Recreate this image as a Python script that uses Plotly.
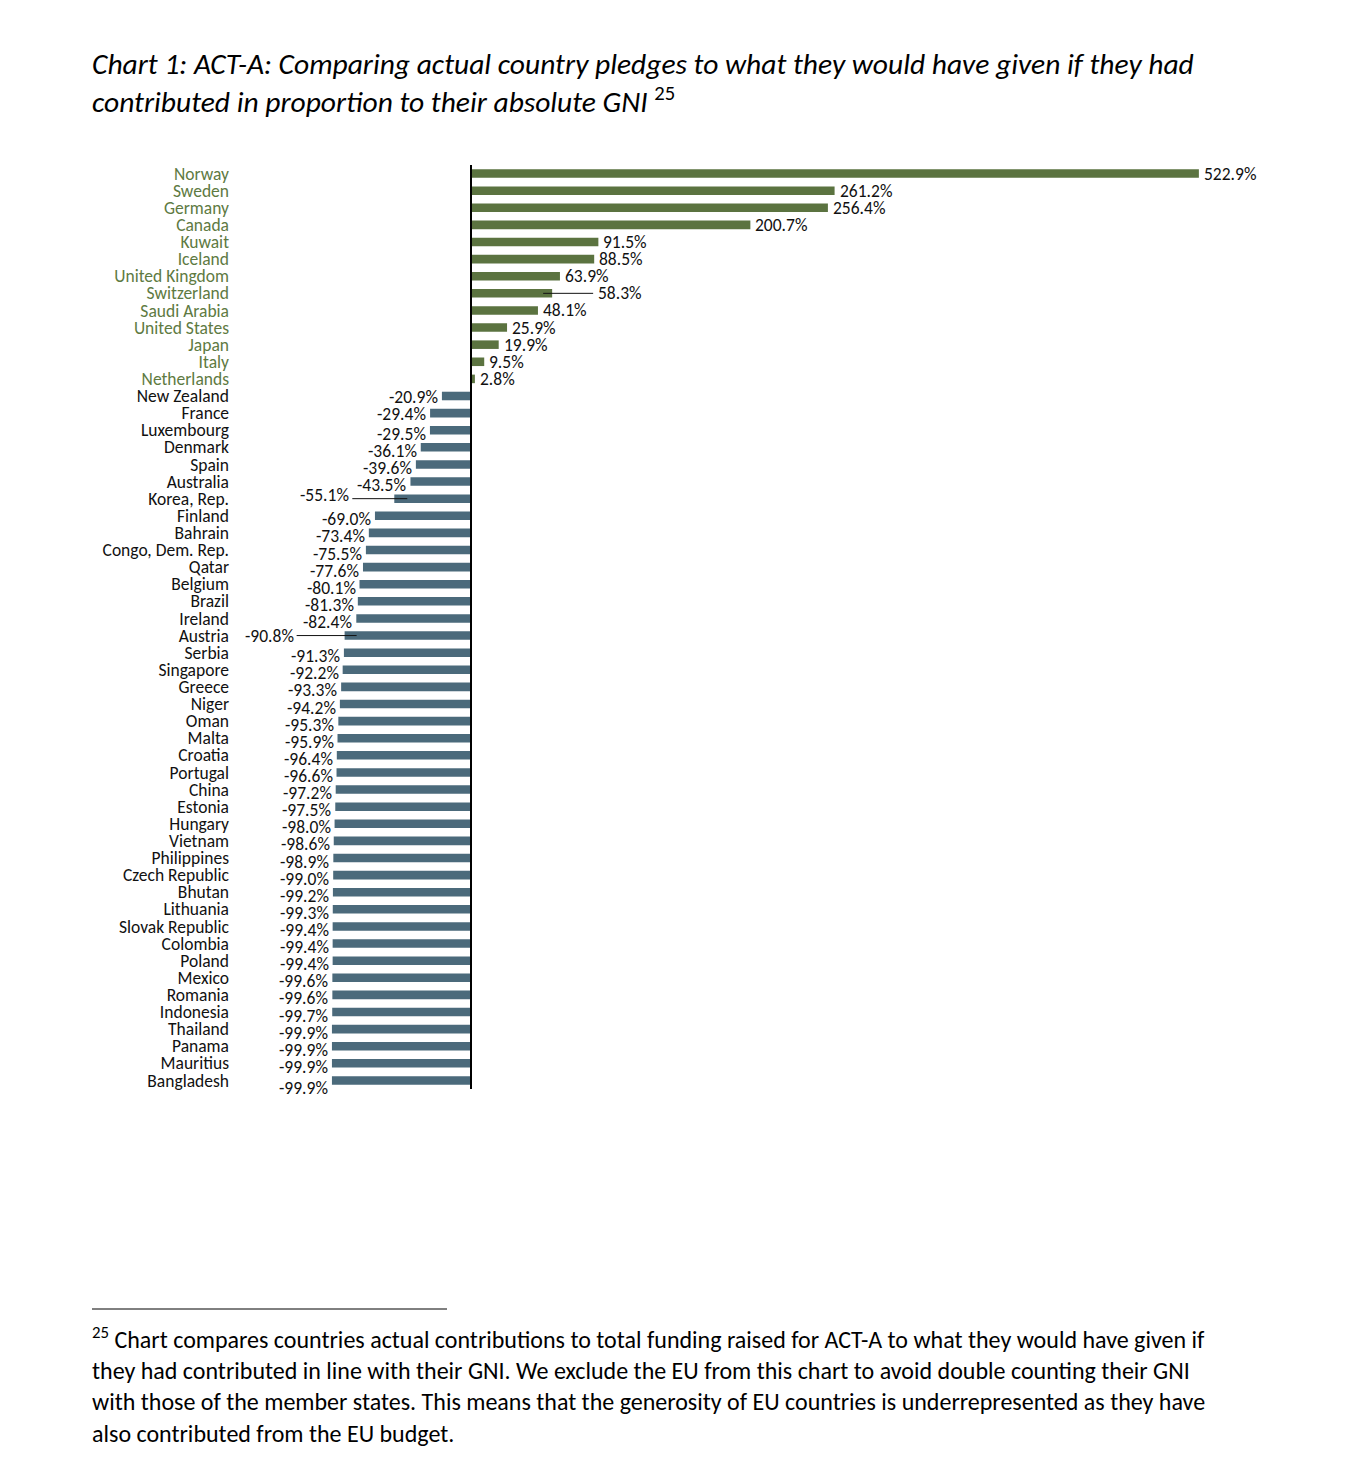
import plotly.graph_objects as go

countries = ["Norway", "Sweden", "Germany", "Canada", "Kuwait", "Iceland", "United Kingdom",
             "Switzerland", "Saudi Arabia", "United States", "Japan", "Italy", "Netherlands",
             "New Zealand", "France", "Luxembourg", "Denmark", "Spain", "Australia", "Korea, Rep.",
             "Finland", "Bahrain", "Congo, Dem. Rep.", "Qatar", "Belgium", "Brazil", "Ireland",
             "Austria", "Serbia", "Singapore", "Greece", "Niger", "Oman", "Malta", "Croatia",
             "Portugal", "China", "Estonia", "Hungary", "Vietnam", "Philippines", "Czech Republic",
             "Bhutan", "Lithuania", "Slovak Republic", "Colombia", "Poland", "Mexico", "Romania",
             "Indonesia", "Thailand", "Panama", "Mauritius", "Bangladesh"]
values = [522.9, 261.2, 256.4, 200.7, 91.5, 88.5, 63.9, 58.3, 48.1, 25.9, 19.9, 9.5, 2.8,
          -20.9, -29.4, -29.5, -36.1, -39.6, -43.5, -55.1, -69.0, -73.4, -75.5, -77.6, -80.1,
          -81.3, -82.4, -90.8, -91.3, -92.2, -93.3, -94.2, -95.3, -95.9, -96.4, -96.6, -97.2,
          -97.5, -98.0, -98.6, -98.9, -99.0, -99.2, -99.3, -99.4, -99.4, -99.4, -99.6, -99.6,
          -99.7, -99.9, -99.9, -99.9, -99.9]

title_text = ("<i>Chart 1: ACT-A: Comparing actual country pledges to what they would have given if they had<br>"
              "contributed in proportion to their absolute GNI </i><sup>25</sup>")
footnote_text = ("<sup>25</sup> Chart compares countries actual contributions to total funding raised for ACT-A to what they would have given if<br>"
                 "they had contributed in line with their GNI. We exclude the EU from this chart to avoid double counting their GNI<br>"
                 "with those of the member states. This means that the generosity of EU countries is underrepresented as they have<br>"
                 "also contributed from the EU budget.")

GREEN = "#5b7340"
BLUE = "#4b6a7b"
GREEN_TXT = "#5e7a42"
FONT = "Carlito, 'Liberation Sans Narrow', Lato, sans-serif"

OFF = 8  # page body margin
W, H = 1360, 1482
L, R, T, B = 235 - OFF, 54 + OFF, 165 - OFF, 393 + OFF
ZERO = 471 - OFF
scale = 1.392  # px per unit
xmin = -(ZERO - L) / scale
xmax = (W - R - ZERO) / scale
PW, PH = W - L - R, H - T - B


def px_x(p):
    return (p - OFF - L) / PW


def px_y(p):
    return (H - B - (p - OFF)) / PH


n = len(countries)
ys = list(range(n))
colors = [GREEN if v >= 0 else BLUE for v in values]

fig = go.Figure()
fig.add_trace(go.Bar(x=values, y=ys, orientation="h", marker=dict(color=colors, line_width=0),
                     width=0.5, hoverinfo="skip"))

ticktext = []
for c, v in zip(countries, values):
    col = GREEN_TXT if v >= 0 else "#111111"
    ticktext.append(f"<span style='color:{col}'>{c}</span>")

LBL = 17.5
special = {
    "Switzerland": dict(lab=44, l0=-9, l1=41),
    "Korea, Rep.": dict(lab=-43, l0=-42, l1=13, ys=4),
    "Austria": dict(lab=-49, l0=-48, l1=12, ys=0),
}
shapes = []
annotations = []
for i, (c, v) in enumerate(zip(countries, values)):
    txt = f"{v:.1f}%"
    if c in special:
        s = special[c]
        annotations.append(dict(x=v, y=i, xref="x", yref="y", text=txt, showarrow=False,
                                xanchor="left" if v >= 0 else "right", xshift=s["lab"],
                                yshift=s.get("ys", 0),
                                font=dict(family=FONT, size=LBL, color="#111111")))
        shapes.append(dict(type="line", xref="x", yref="y", xsizemode="pixel", xanchor=v,
                           x0=s["l0"], x1=s["l1"], y0=i, y1=i,
                           line=dict(color="#111111", width=1)))
        continue
    if v >= 0:
        annotations.append(dict(x=v, y=i, xref="x", yref="y", text=txt, showarrow=False,
                                xanchor="left", xshift=3, yshift=0,
                                font=dict(family=FONT, size=LBL, color="#111111")))
    else:
        if i <= 14:
            ysh = -1
        elif i == n - 1:
            ysh = -8
        else:
            ysh = -3.5
        annotations.append(dict(x=v, y=i, xref="x", yref="y", text=txt, showarrow=False,
                                xanchor="right", xshift=-2, yshift=ysh,
                                font=dict(family=FONT, size=LBL, color="#111111")))

# zero axis line
shapes.append(dict(type="line", xref="x", yref="paper", x0=0, x1=0, y0=0, y1=1,
                   line=dict(color="#000000", width=2)))
# footnote rule
shapes.append(dict(type="line", xref="paper", yref="paper",
                   x0=px_x(92), x1=px_x(447), y0=px_y(1309), y1=px_y(1309),
                   line=dict(color="#000000", width=1)))

annotations.append(dict(text=title_text, xref="paper", yref="paper",
                        x=px_x(90), y=px_y(44),
                        xanchor="left", yanchor="top", align="left", showarrow=False,
                        font=dict(family=FONT, size=29.5, color="#000000")))
annotations.append(dict(text=footnote_text, xref="paper", yref="paper",
                        x=px_x(90), y=px_y(1320),
                        xanchor="left", yanchor="top", align="left", showarrow=False,
                        font=dict(family=FONT, size=24, color="#000000")))

fig.update_layout(
    width=W, height=H, margin=dict(l=L, r=R, t=T, b=B),
    paper_bgcolor="white", plot_bgcolor="white", showlegend=False,
    font=dict(family=FONT, size=17.5, color="#111111"),
    xaxis=dict(range=[xmin, xmax], showgrid=False, zeroline=False, showticklabels=False,
               showline=False, ticks=""),
    yaxis=dict(range=[n - 0.5, -0.5], tickmode="array", tickvals=ys, ticktext=ticktext,
               showgrid=False, zeroline=False, showline=False, ticks="",
               tickfont=dict(family=FONT, size=17.5), ticklabelstandoff=5),
    shapes=shapes, annotations=annotations,
)

fig.write_html("out.html")
